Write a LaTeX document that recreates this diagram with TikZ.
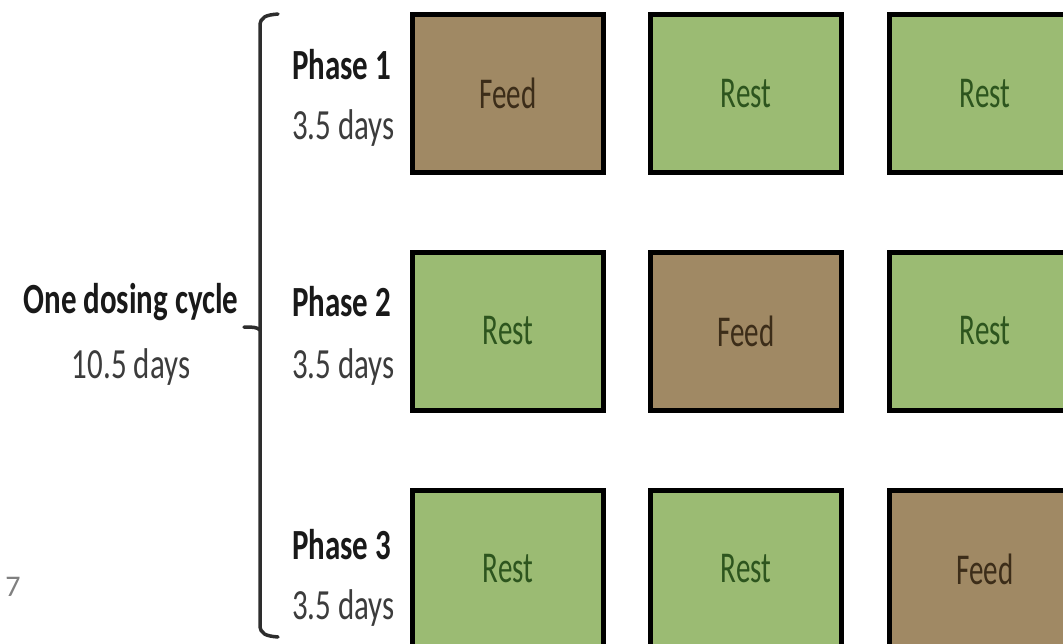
\documentclass[tikz,border=0pt]{standalone}
\usepackage{fontspec}
\setmainfont{Carlito}
\definecolor{feedfill}{RGB}{160,137,100}
\definecolor{restfill}{RGB}{155,187,115}
\definecolor{feedtext}{RGB}{60,45,25}
\definecolor{resttext}{RGB}{45,85,30}
\definecolor{labeltext}{RGB}{25,25,25}
\definecolor{daystext}{RGB}{60,60,60}
\definecolor{brace}{RGB}{45,45,45}
\newcommand{\sq}[1]{\scalebox{0.72}[1]{#1}}
\newcommand{\sqb}[1]{\scalebox{0.66}[1]{#1}}
\tikzset{
  cell/.style={draw=black, line width=5pt, minimum width=191pt, minimum height=158pt, inner sep=0pt, font=\fontsize{44}{50}\selectfont},
  feedbox/.style={cell, fill=feedfill, text=feedtext},
  restbox/.style={cell, fill=restfill, text=resttext},
  phaselbl/.style={anchor=west, inner sep=0pt, text=labeltext, font=\fontsize{43}{50}\selectfont\bfseries},
  dayslbl/.style={anchor=west, inner sep=0pt, text=daystext, font=\fontsize{43}{50}\selectfont},
  bracketline/.style={draw=brace, line width=3.5pt, line cap=round}
}
\begin{document}
\begin{tikzpicture}[x=1pt,y=-1pt]
\useasboundingbox (0,0) rectangle (1063,643);
\clip (0,0) rectangle (1063,643);
\fill[white] (0,0) rectangle (1063,643);
% boxes
\node[feedbox] (r1c1) at (508,93.5) {\sqb{Feed}};
\node[restbox] (r1c2) at (746,93.5) {\sqb{Rest}};
\node[restbox] (r1c3) at (985,93.5) {\sqb{Rest}};
\node[restbox] (r2c1) at (508,331) {\sqb{Rest}};
\node[feedbox] (r2c2) at (746,331) {\sqb{Feed}};
\node[restbox] (r2c3) at (985,331) {\sqb{Rest}};
\node[restbox] (r3c1) at (508,569) {\sqb{Rest}};
\node[restbox] (r3c2) at (746,569) {\sqb{Rest}};
\node[feedbox] (r3c3) at (985,569) {\sqb{Feed}};
% phase labels
\node[phaselbl] (p1) at (292,65) {\sq{Phase 1}};
\node[dayslbl] (d1) at (292,128) {\sq{3.5 days}};
\node[phaselbl] (p2) at (292,302) {\sq{Phase 2}};
\node[dayslbl] (d2) at (292,367) {\sq{3.5 days}};
\node[phaselbl] (p3) at (292,545) {\sq{Phase 3}};
\node[dayslbl] (d3) at (292,608) {\sq{3.5 days}};
% cycle label
\node[inner sep=0pt, text=labeltext, font=\fontsize{43}{50}\selectfont\bfseries] (cyc) at (131,302) {\sq{One dosing cycle}};
\node[inner sep=0pt, text=daystext, font=\fontsize{43}{50}\selectfont] (cycd) at (131,367) {\sq{10.5 days}};
% stray number
\node[inner sep=0pt, text=gray, font=\fontsize{30}{34}\selectfont] (num) at (13,587) {7};
% bracket
\draw[bracketline] (278,14) .. controls (266,15) and (260,17) .. (260,26) -- (260,625) .. controls (260,634) and (266,636) .. (278,637);
\draw[bracketline] (260,330) .. controls (257,327) and (252,327) .. (244,327);
\end{tikzpicture}
\end{document}
